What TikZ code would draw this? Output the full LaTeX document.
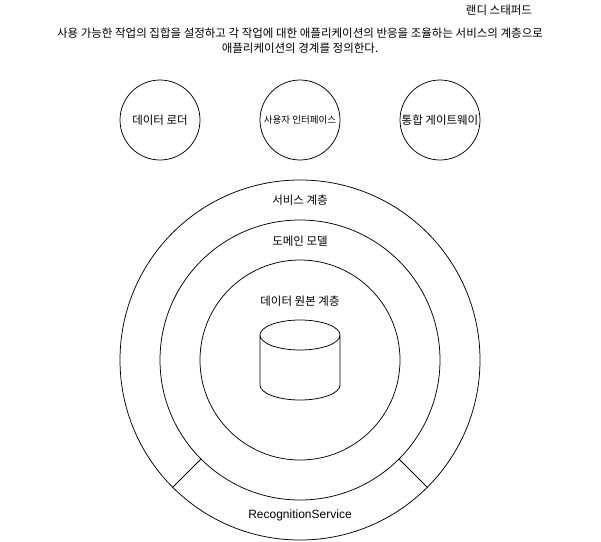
\documentclass[tikz,border=0pt]{standalone}
\usepackage{fontspec}
\setmainfont{Noto Sans CJK KR}
\newfontfamily\latinfont{Liberation Sans}
\tikzset{
  ring/.style={draw,circle,line width=0.75pt,inner sep=0pt,fill=none},
  lbl/.style={font=\fontsize{11.5pt}{15pt}\selectfont,inner sep=0pt,align=center},
  small/.style={font=\fontsize{9.5pt}{11pt}\selectfont,inner sep=0pt},
  edge/.style={line width=0.75pt}
}
\begin{document}
\begin{tikzpicture}[x=1pt,y=-1pt]
\useasboundingbox (0,0) rectangle (601,541);
\node[lbl] (title) at (499,10) {랜디 스태퍼드};
\node[lbl] (desc) at (300,40.5) {사용 가능한 작업의 집합을 설정하고 각 작업에 대한 애플리케이션의 반응을 조율하는 서비스의 계층으로\\애플리케이션의 경계를 정의한다.};
\node[ring,minimum size=80pt] (c1) at (160,120) {};
\node[ring,minimum size=80pt] (c2) at (300,120) {};
\node[ring,minimum size=80pt] (c3) at (440,120) {};
\node[lbl] (t1) at (c1) {데이터 로더};
\node[small] (t2) at (c2) {사용자 인터페이스};
\node[lbl] (t3) at (c3) {통합 게이트웨이};
\node[ring,minimum size=360pt] (outer) at (300,360) {};
\node[ring,minimum size=280pt] (mid) at (300,360) {};
\node[ring,minimum size=200pt] (inner) at (300,360) {};
\node[lbl] (t4) at (300,200) {서비스 계층};
\node[lbl] (t5) at (300,241) {도메인 모델};
\node[lbl] (t6) at (300,301) {데이터 원본 계층};
\node[inner sep=0pt,font=\latinfont\fontsize{12pt}{14pt}\selectfont] (t7) at (300,515) {RecognitionService};
\draw[edge] (260,335) arc[start angle=180,end angle=360,x radius=40pt,y radius=15pt]
            arc[start angle=0,end angle=180,x radius=40pt,y radius=15pt]
            -- (260,385) arc[start angle=180,end angle=360,x radius=40pt,y radius=15pt] -- (340,335);
\coordinate (a1) at (outer.225);
\coordinate (a2) at (mid.225);
\coordinate (b1) at (outer.315);
\coordinate (b2) at (mid.315);
\draw[edge] (a1) -- (a2);
\draw[edge] (b1) -- (b2);
\end{tikzpicture}
\end{document}
